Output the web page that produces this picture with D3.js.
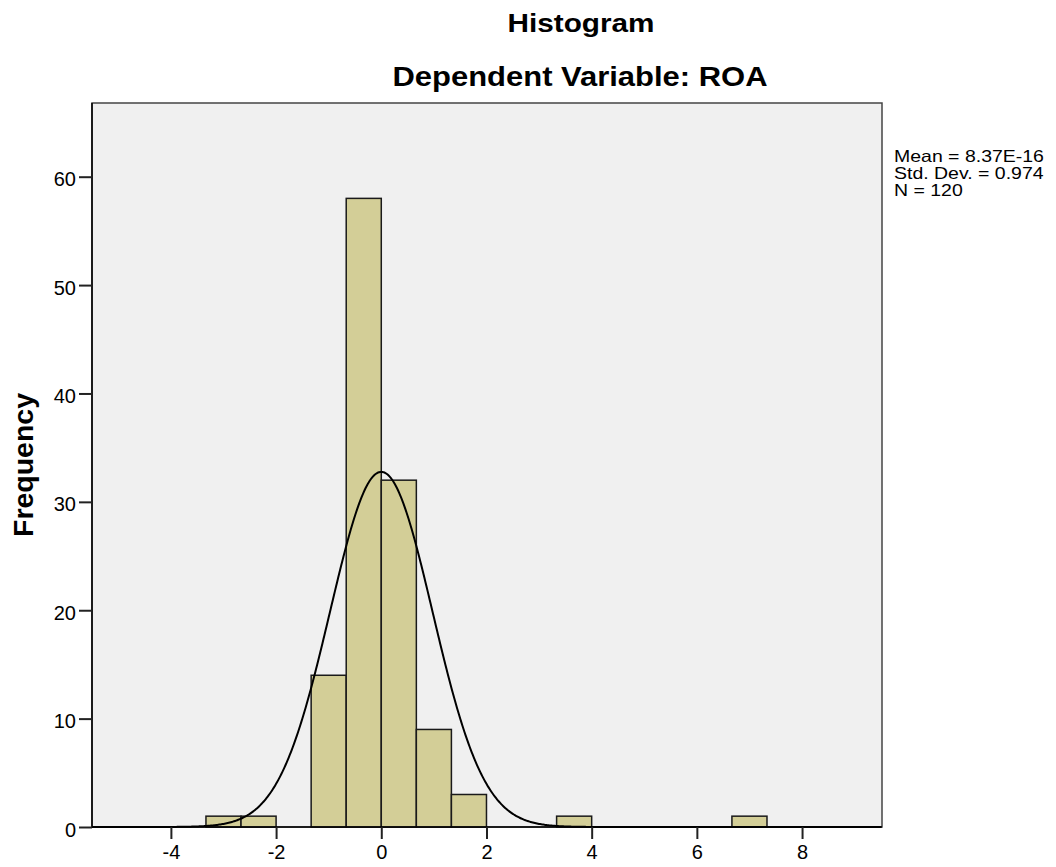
<!DOCTYPE html>
<html>
<head>
<meta charset="utf-8">
<script src="https://cdn.jsdelivr.net/npm/d3@7"></script>
<style>
  body { margin: 0; background: #fff; }
  text { font-family: "Liberation Sans", Arial, sans-serif; fill: #000; }
</style>
</head>
<body>
<div id="chart"></div>
<script>
// Data
const binWidth = 2 / 3
const binStarts = [-10/3, -8/3, -4/3, -2/3, 0, 2/3, 4/3, 10/3, 20/3]
const binCounts = [1, 1, 14, 58, 32, 9, 3, 1, 1]
const xTicks = [-4, -2, 0, 2, 4, 6, 8]
const yTicks = [0, 10, 20, 30, 40, 50, 60]
const statsLines = ["Mean = 8.37E-16", "Std. Dev. = 0.974", "N = 120"]
const mean = 8.37e-16
const stdDev = 0.974
const total = 120

const width = 1056, height = 867
const plot = { left: 92, right: 882, top: 103, bottom: 827 }

const svg = d3.select("#chart").append("svg")
  .attr("width", width)
  .attr("height", height)

const x = d3.scaleLinear().domain([-5.5, 9.52]).range([plot.left, plot.right])
const y = d3.scaleLinear().domain([0, 66.8]).range([plot.bottom, plot.top])

// plot background
svg.append("rect")
  .attr("x", plot.left).attr("y", plot.top)
  .attr("width", plot.right - plot.left).attr("height", plot.bottom - plot.top)
  .attr("fill", "#f0f0f0")
  .attr("stroke", "#444").attr("stroke-width", 1.5)

// bars
svg.append("g").selectAll("rect")
  .data(binStarts.map((s, i) => ({ start: s, count: binCounts[i] })))
  .join("rect")
    .attr("x", d => x(d.start))
    .attr("y", d => y(d.count))
    .attr("width", d => x(d.start + binWidth) - x(d.start))
    .attr("height", d => y(0) - y(d.count))
    .attr("fill", "#d3ce97")
    .attr("stroke", "#1a1a1a")
    .attr("stroke-width", 1.5)

// fitted normal curve from the shown stats
const curvePts = d3.range(-5.5, 9.52, 0.02).map(v => {
  const z = (v - mean) / stdDev
  return [v, total * binWidth * Math.exp(-0.5 * z * z) / (stdDev * Math.sqrt(2 * Math.PI))]
})
svg.append("path")
  .datum(curvePts)
  .attr("fill", "none")
  .attr("stroke", "#000")
  .attr("stroke-width", 2)
  .attr("d", d3.line().x(d => x(d[0])).y(d => y(d[1])))

// axes (plain hyphen minus like the original)
const xAxis = svg.append("g")
  .attr("transform", `translate(0,${plot.bottom})`)
  .call(d3.axisBottom(x).tickValues(xTicks).tickFormat(d => String(d)).tickSize(12).tickPadding(6))
const yAxis = svg.append("g")
  .attr("transform", `translate(${plot.left},0)`)
  .call(d3.axisLeft(y).tickValues(yTicks).tickFormat(d => String(d)).tickSize(13).tickPadding(3))

xAxis.select(".domain").attr("stroke", "#000").attr("stroke-width", 1.5)
  .attr("d", `M${plot.left},0H${plot.right}`)
yAxis.select(".domain").attr("stroke", "#000").attr("stroke-width", 1.5)
  .attr("d", `M0,${plot.top}V${plot.bottom}`)
svg.selectAll(".tick line").attr("stroke", "#222").attr("stroke-width", 2)
svg.selectAll(".tick text")
  .attr("font-family", "Liberation Sans, Arial, sans-serif")
  .attr("font-size", 20)
  .attr("fill", "#111")
yAxis.selectAll(".tick text").attr("dy", "0.45em")

// titles
svg.append("text")
  .attr("x", 581).attr("y", 32)
  .attr("text-anchor", "middle")
  .attr("font-size", 26).attr("font-weight", "bold")
  .attr("textLength", 147).attr("lengthAdjust", "spacingAndGlyphs")
  .text("Histogram")
svg.append("text")
  .attr("x", 580).attr("y", 86)
  .attr("text-anchor", "middle")
  .attr("font-size", 27).attr("font-weight", "bold")
  .attr("textLength", 375).attr("lengthAdjust", "spacingAndGlyphs")
  .text("Dependent Variable: ROA")

// y label
svg.append("text")
  .attr("transform", "translate(33,465) rotate(-90)")
  .attr("text-anchor", "middle")
  .attr("font-size", 27).attr("font-weight", "bold")
  .attr("textLength", 144).attr("lengthAdjust", "spacingAndGlyphs")
  .text("Frequency")

// stats box: tight lines, glyphs stretched a little wider like the original
svg.append("g").selectAll("text")
  .data(statsLines)
  .join("text")
    .attr("x", 894)
    .attr("y", (d, i) => 162 + i * 17)
    .attr("font-size", 16.5)
    .text(d => d)
    .each(function () {
      const len = this.getComputedTextLength()
      d3.select(this).attr("textLength", len * 1.18).attr("lengthAdjust", "spacingAndGlyphs")
    })
</script>
</body>
</html>
